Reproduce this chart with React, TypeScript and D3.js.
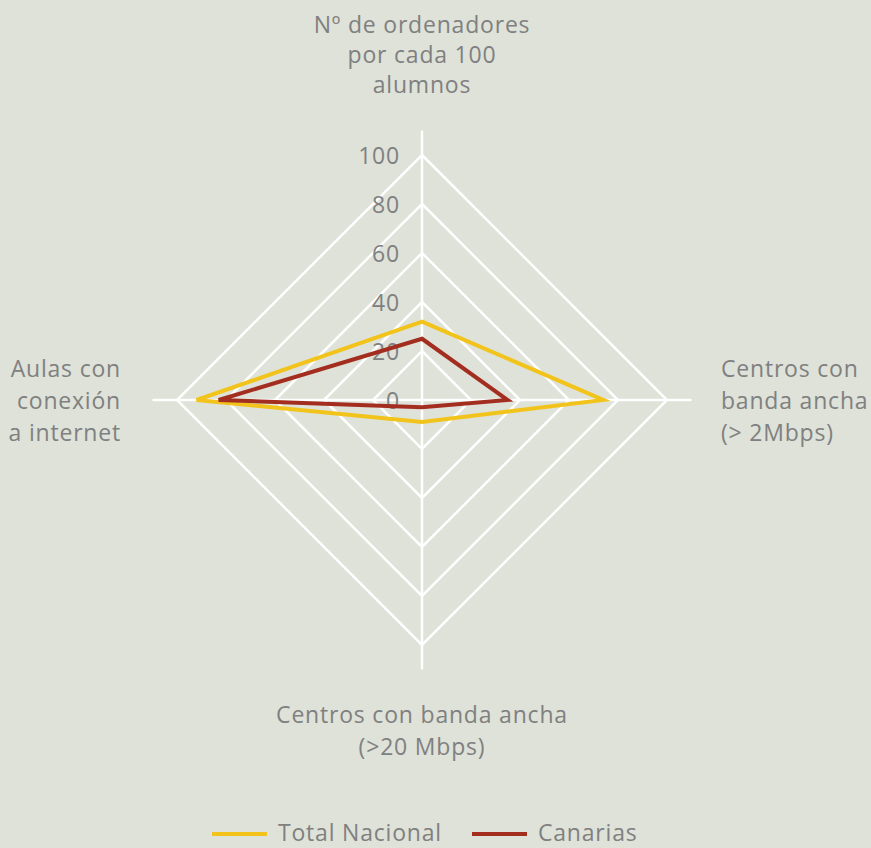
import React from "react";
import * as d3 from "d3";

const axes = [
  ["Nº de ordenadores", "por cada 100", "alumnos"],
  ["Centros con", "banda ancha", "(> 2Mbps)"],
  ["Centros con banda ancha", "(>20 Mbps)"],
  ["Aulas con", "conexión", "a internet"],
];
const seriesNames = ["Total Nacional", "Canarias"];
const totalNacional = [32, 74, 9, 92];
const canarias = [25, 35, 3, 83];
const ticks = [0, 20, 40, 60, 80, 100];
const colors = ["#F2C31B", "#A32E1F"];

const W = 871;
const H = 848;
const cx = 422;
const cy = 400;
const R100 = 245;
const FONT = "'Open Sans', Lato, sans-serif";
const GRAY = "#808080";
const LS = 0.8;
const FS = 23;

export default function App() {
  const r = d3.scaleLinear().domain([0, 100]).range([0, R100]);
  const angle = (i: number) => (i * Math.PI) / 2; // 0 = up, clockwise
  const pt = (i: number, v: number): [number, number] => [
    cx + r(v) * Math.sin(angle(i)),
    cy - r(v) * Math.cos(angle(i)),
  ];
  const line = d3.line<[number, number]>().curve(d3.curveLinearClosed);
  const gridLevels = [20, 40, 60, 80, 100];
  const data = [totalNacional, canarias];

  return (
    <svg width={W} height={H} style={{ display: "block", position: "absolute", left: 0, top: 0 }}>
      <rect width={W} height={H} fill="#DEE2D9" />
      {gridLevels.map((lv) => (
        <path
          key={lv}
          d={line(axes.map((_, i) => pt(i, lv))) || ""}
          fill="none"
          stroke="#fff"
          strokeWidth={2.5}
        />
      ))}
      {axes.map((_, i) => {
        const [x, y] = pt(i, 110);
        return <line key={i} x1={cx} y1={cy} x2={x} y2={y} stroke="#fff" strokeWidth={2.5} />;
      })}
      {ticks.map((t) => (
        <text
          key={t}
          x={cx - 22}
          y={cy - r(t) + 9}
          textAnchor="end"
          fontFamily={FONT}
          fontSize={FS}
          letterSpacing={LS}
          fill={GRAY}
        >
          {t}
        </text>
      ))}
      {data.map((d, s) => (
        <path
          key={s}
          d={line(d.map((v, i) => pt(i, v))) || ""}
          fill="none"
          stroke={colors[s]}
          strokeWidth={4}
          strokeLinejoin="miter"
        />
      ))}
      <g fontFamily={FONT} fontSize={FS} fill={GRAY} letterSpacing={LS}>
        <text textAnchor="middle">
          {axes[0].map((l, k) => (
            <tspan key={k} x={cx} y={33 + k * 30}>
              {l}
            </tspan>
          ))}
        </text>
        <text textAnchor="start">
          {axes[1].map((l, k) => (
            <tspan key={k} x={721} y={377 + k * 32}>
              {l}
            </tspan>
          ))}
        </text>
        <text textAnchor="middle">
          {axes[2].map((l, k) => (
            <tspan key={k} x={cx} y={723 + k * 32}>
              {l}
            </tspan>
          ))}
        </text>
        <text textAnchor="end">
          {axes[3].map((l, k) => (
            <tspan key={k} x={121} y={377 + k * 32}>
              {l}
            </tspan>
          ))}
        </text>
        {seriesNames.map((n, s) => {
          const x0 = s === 0 ? 212 : 472;
          return (
            <g key={n}>
              <line x1={x0} x2={x0 + 55} y1={834} y2={834} stroke={colors[s]} strokeWidth={4} />
              <text x={x0 + 66} y={841}>
                {n}
              </text>
            </g>
          );
        })}
      </g>
    </svg>
  );
}
